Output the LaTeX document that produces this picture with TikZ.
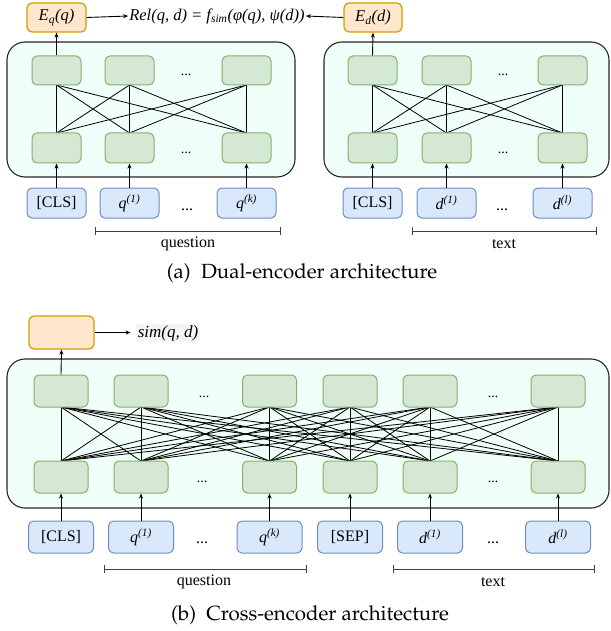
\documentclass[tikz,border=0pt]{standalone}
\usepackage[T1]{fontenc}
\usepackage{fontspec}
\setmainfont{Liberation Serif}
\usetikzlibrary{arrows.meta}
\definecolor{mint}{HTML}{F0FFF9}
\definecolor{gfill}{HTML}{D5E8D4}
\definecolor{gstroke}{HTML}{82B366}
\definecolor{bfill}{HTML}{DAE8FC}
\definecolor{bstroke}{HTML}{6C8EBF}
\definecolor{ofill}{HTML}{FFE6CC}
\definecolor{ostroke}{HTML}{D79B00}
\newcommand\capfont{\fontencoding{T1}\fontfamily{ppl}\fontsize{20.5}{24}\selectfont}
\newcommand\tq[1]{\textit{q}\textsuperscript{\textit{(#1)}}}
\newcommand\td[1]{\textit{d}\textsuperscript{\textit{(#1)}}}
\tikzset{
  cont/.style={draw=black!85, line width=1.1pt, fill=mint, rounded corners=18pt, inner sep=0},
  gbox/.style={draw=gstroke, fill=gfill, rounded corners=5pt, line width=1pt, inner sep=0},
  tok/.style={draw=bstroke, fill=bfill, rounded corners=5pt, line width=1pt, inner sep=0, font=\fontsize{16}{18}\selectfont},
  obox/.style={draw=ostroke, fill=ofill, rounded corners=5pt, line width=1.2pt, inner sep=0, font=\fontsize{16.5}{18}\selectfont},
  arr/.style={-{Stealth[length=5pt,width=4pt]}, line width=0.9pt},
  conn/.style={line width=0.8pt},
  brk/.style={{Bar[width=8pt]}-{Bar[width=8pt]}, draw=black!75, line width=1pt},
  lbl/.style={font=\fontsize{16}{18}\selectfont, inner sep=0},
  dots/.style={font=\fontsize{14}{16}\selectfont, inner sep=0},
  topg/.style={gbox, minimum width=49pt, minimum height=29pt},
  botg/.style={gbox, minimum width=49pt, minimum height=30pt},
  tokA/.style={tok, minimum width=59pt, minimum height=30pt},
  gB/.style={gbox, minimum width=54pt, minimum height=32pt},
  tokB/.style={tok, minimum width=65pt, minimum height=32pt},
}
\begin{document}
\begin{tikzpicture}[x=1pt,y=-1pt]
\useasboundingbox (0,0) rectangle (610,631);
% ===== (a) Dual encoder =====
\node[cont, minimum width=288pt, minimum height=135pt] (encL) at (151,109.5) {};
\node[cont, minimum width=285pt, minimum height=135pt] (encR) at (466.5,109.5) {};
\foreach \n/\x in {1/56.5,2/129.5,3/246.5}{
  \coordinate (Ltc\n) at (\x,85);
  \coordinate (Lbc\n) at (\x,133);
}
\foreach \n/\x in {1/372.5,2/446.5,3/562.5}{
  \coordinate (Rtc\n) at (\x,85);
  \coordinate (Rbc\n) at (\x,133);
}
\foreach \i in {1,2,3}{\foreach \j in {1,2,3}{
  \draw[conn] (Ltc\i) -- (Lbc\j);
  \draw[conn] (Rtc\i) -- (Rbc\j);
}}
\node[topg] (Lt1) at (56.5,70.5) {};
\node[topg] (Lt2) at (129.5,70.5) {};
\node[topg] (Lt3) at (246.5,70.5) {};
\node[botg] (Lb1) at (56.5,148) {};
\node[botg] (Lb2) at (129.5,148) {};
\node[botg] (Lb3) at (246.5,148) {};
\node[dots] (Ldt) at (186,75) {...};
\node[dots] (Ldb) at (186,153) {...};
\node[topg] (Rt1) at (372.5,70.5) {};
\node[topg] (Rt2) at (446.5,70.5) {};
\node[topg] (Rt3) at (562.5,70.5) {};
\node[botg] (Rb1) at (372.5,148) {};
\node[botg] (Rb2) at (446.5,148) {};
\node[botg] (Rb3) at (562.5,148) {};
\node[dots] (Rdt) at (503,75) {...};
\node[dots] (Rdb) at (503,153) {...};
% tokens
\node[tokA] (Lk1) at (56.5,203) {[CLS]};
\node[tokA] (Lk2) at (129.5,203) {\tq{1}};
\node[tokA] (Lk3) at (246.5,203) {\tq{k}};
\node[lbl] (Lkd) at (187,210) {...};
\node[tokA] (Rk1) at (372.5,203) {[CLS]};
\node[tokA] (Rk2) at (446.5,203) {\td{1}};
\node[tokA] (Rk3) at (562.5,203) {\td{l}};
\node[lbl] (Rkd) at (502,210) {...};
\foreach \i in {1,2,3}{
  \draw[arr] (Lk\i.north) -- (Lb\i.south);
  \draw[arr] (Rk\i.north) -- (Rb\i.south);
}
% brackets
\coordinate (qa1) at (95,231); \coordinate (qa2) at (281,231);
\draw[brk] (qa1) -- (qa2);
\node[lbl] (qlabA) at (188,244) {question};
\coordinate (ta1) at (412,231); \coordinate (ta2) at (597,231);
\draw[brk] (ta1) -- (ta2);
\node[lbl] (tlabA) at (504,244) {text};
% outputs
\node[obox, minimum width=59pt, minimum height=29pt] (Eq) at (56.5,17.5) {\textit{E\textsubscript{q}(q)}};
\node[obox, minimum width=58pt, minimum height=29pt] (Ed) at (373,17.5) {\textit{E\textsubscript{d}(d)}};
\node[font=\fontsize{16.5}{18}\selectfont\itshape, inner sep=1pt] (rel) at (217,16) {Rel(q, d) = f\textsubscript{sim}(φ(q), ψ(d))};
\draw[arr] (Eq.east) -- (rel.west);
\draw[arr] (Ed.west) -- (rel.east);
\draw[arr] (Lt1.north) -- (Eq.south);
\draw[arr] (Rt1.north) -- (Ed.south);
\node (capA) at (302,273) {\capfont (a)\enspace Dual-encoder architecture};
% ===== (b) Cross encoder =====
\node[cont, minimum width=602pt, minimum height=149pt] (encB) at (308,433.5) {};
\foreach \n/\x in {1/61,2/141,3/269.5,4/350,5/430,6/558}{
  \coordinate (Btc\n) at (\x,407);
  \coordinate (Bbc\n) at (\x,461);
}
\foreach \i in {1,...,6}{\foreach \j in {1,...,6}{
  \draw[conn] (Btc\i) -- (Bbc\j);
}}
\foreach \n/\x in {1/61,2/141,3/269.5,4/350,5/430,6/558}{
  \node[gB] (Bt\n) at (\x,391) {};
  \node[gB] (Bb\n) at (\x,477) {};
}
\node[dots] (Bdt1) at (204,397) {...};
\node[dots] (Bdt2) at (493,397) {...};
\node[dots] (Bdb1) at (202,482) {...};
\node[dots] (Bdb2) at (493,482) {...};
\node[tokB] (Bk1) at (61,537) {[CLS]};
\node[tokB] (Bk2) at (141,537) {\tq{1}};
\node[tokB] (Bk3) at (269.5,537) {\tq{k}};
\node[tokB] (Bk4) at (350,537) {[SEP]};
\node[tokB] (Bk5) at (430,537) {\td{1}};
\node[tokB] (Bk6) at (558,537) {\td{l}};
\node[lbl] (Bkd1) at (202,543) {...};
\node[lbl] (Bkd2) at (493,543) {...};
\foreach \i in {1,...,6}{
  \draw[arr] (Bk\i.north) -- (Bb\i.south);
}
\coordinate (qb1) at (104,569); \coordinate (qb2) at (307,569);
\draw[brk] (qb1) -- (qb2);
\node[lbl] (qlabB) at (204,582) {question};
\coordinate (tb1) at (393,569); \coordinate (tb2) at (595,569);
\draw[brk] (tb1) -- (tb2);
\node[lbl] (tlabB) at (493,582) {text};
\node[obox, minimum width=65pt, minimum height=33pt] (sbox) at (61.5,332.5) {};
\node[font=\fontsize{17}{18}\selectfont\itshape, fill=black!4, inner sep=1.5pt] (sim) at (168,333) {sim(q, d)};
\draw[arr] (sbox.east) -- ++(36,0) coordinate (simin);
\draw[arr] (Bt1.north) -- (sbox.south);
\node (capB) at (310,615) {\capfont (b)\enspace Cross-encoder architecture};
\end{tikzpicture}
\end{document}
